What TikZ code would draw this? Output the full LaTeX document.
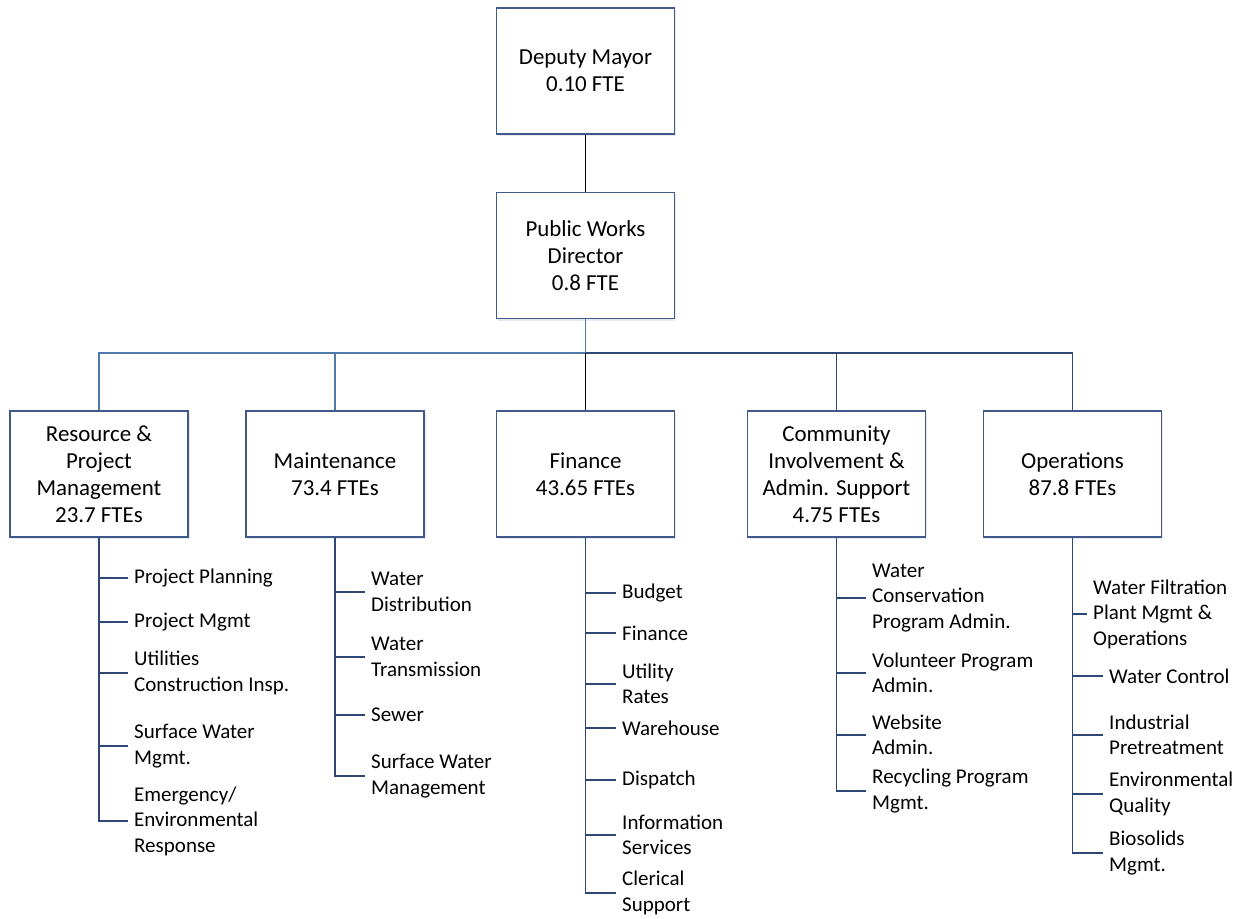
\documentclass[tikz,border=0pt]{standalone}
\usepackage{fontspec}
\setmainfont{Carlito}
\usetikzlibrary{shadows}
\definecolor{boxline}{HTML}{41598A}
\definecolor{navy}{HTML}{2F4776}
\definecolor{steel}{HTML}{4E7AAB}
\tikzset{
  orgbox/.style={draw=boxline, line width=1.2pt, fill=white, rectangle,
    minimum width=178pt, minimum height=126pt, inner sep=0pt, align=center,
    font=\fontsize{22.9}{27}\selectfont,
    drop shadow={shadow xshift=1.5pt, shadow yshift=-2pt, fill=boxline!25, opacity=0.5}},
  item/.style={anchor=west, align=left, inner xsep=6pt, inner ysep=0pt,
    font=\fontsize{21}{25.5}\selectfont},
  conn/.style={draw=navy, line width=1.3pt},
  sconn/.style={draw=steel, line width=1.3pt},
  kconn/.style={draw=black, line width=1.3pt},
}
\begin{document}
\begin{tikzpicture}[x=1pt,y=-1pt]
\useasboundingbox (0,0) rectangle (1244,918);
% top boxes
\node[orgbox] (dm) at (585.5,71) {Deputy Mayor\\0.10 FTE};
\node[orgbox] (pwd) at (585.5,255.5) {Public Works\\Director\\0.8 FTE};
% departments
\node[orgbox] (res) at (99,474) {Resource \&\\Project\\Management\\23.7 FTEs};
\node[orgbox] (mnt) at (335,474) {Maintenance\\73.4 FTEs};
\node[orgbox] (fin) at (585.5,474) {Finance\\43.65 FTEs};
\node[orgbox] (com) at (836.5,474) {Community\\Involvement \&\\Admin. Support\\4.75 FTEs};
\node[orgbox] (ops) at (1072.5,474) {Operations\\87.8 FTEs};
% hierarchy connectors
\coordinate (bj) at (585.5,353);
\draw[kconn] (dm) -- (pwd);
\draw[sconn] (pwd.south) -- (bj);
\draw[sconn] (res.north) |- (bj);
\draw[sconn] (mnt.north) -- (mnt.north |- bj);
\draw[conn] (ops.north) |- (bj);
\draw[conn] (com.north) -- (com.north |- bj);
\draw[kconn] (bj) -- (fin.north);
% Resource & Project Management items
\node[item] (r1) at (128,578) {Project Planning};
\node[item] (r2) at (128,622) {Project Mgmt};
\node[item] (r3) at (128,673) {Utilities\\Construction Insp.};
\node[item] (r4) at (128,746) {Surface Water\\Mgmt.};
\node[item] (r5) at (128,821) {Emergency/\\Environmental\\Response};
\coordinate (rb) at (99,821);
\draw[conn] (res.south) -- (rb) -- (r5.west);
\foreach \n in {r1,r2,r3,r4} \draw[conn] (rb |- \n.west) -- (\n.west);
% Maintenance items
\node[item] (m1) at (365,592) {Water\\Distribution};
\node[item] (m2) at (365,657) {Water\\Transmission};
\node[item] (m3) at (365,715) {Sewer};
\node[item] (m4) at (365,776) {Surface Water\\Management};
\coordinate (mb) at (335,776);
\draw[conn] (mnt.south) -- (mb) -- (m4.west);
\foreach \n in {m1,m2,m3} \draw[conn] (mb |- \n.west) -- (\n.west);
% Finance items
\node[item] (f1) at (616,593) {Budget};
\node[item] (f2) at (616,633) {Finance};
\node[item] (f3) at (616,684) {Utility\\Rates};
\node[item] (f4) at (616,728) {Warehouse};
\node[item] (f5) at (616,780) {Dispatch};
\node[item] (f6) at (616,835) {Information\\Services};
\node[item] (f7) at (616,893) {Clerical\\Support};
\coordinate (fb) at (585.5,893);
\draw[conn] (fin.south) -- (fb) -- (f7.west);
\foreach \n in {f1,f2,f3,f4,f5,f6} \draw[conn] (fb |- \n.west) -- (\n.west);
% Community items
\node[item] (c1) at (866,598) {Water\\Conservation\\Program Admin.};
\node[item] (c2) at (866,673) {Volunteer Program\\Admin.};
\node[item] (c3) at (866,735) {Website\\Admin.};
\node[item] (c4) at (866,791) {Recycling Program\\Mgmt.};
\coordinate (cb) at (836.5,791);
\draw[conn] (com.south) -- (cb) -- (c4.west);
\foreach \n in {c1,c2,c3} \draw[conn] (cb |- \n.west) -- (\n.west);
% Operations items
\node[item] (o1) at (1087,614) {Water Filtration\\Plant Mgmt \&\\Operations};
\node[item] (o2) at (1103,676) {Water Control};
\node[item] (o3) at (1103,735) {Industrial\\Pretreatment};
\node[item] (o4) at (1103,794) {Environmental\\Quality};
\node[item] (o5) at (1103,853) {Biosolids\\Mgmt.};
\coordinate (ob) at (1072.5,853);
\draw[conn] (ops.south) -- (ob) -- (o5.west);
\foreach \n in {o1,o2,o3,o4} \draw[conn] (ob |- \n.west) -- (\n.west);
\end{tikzpicture}
\end{document}
